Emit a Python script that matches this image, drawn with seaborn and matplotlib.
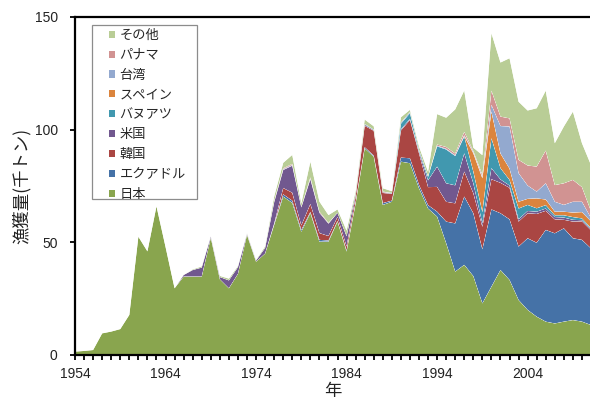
import pandas as pd
import matplotlib
matplotlib.use("Agg")
import matplotlib.pyplot as plt
from matplotlib.patches import Patch, Rectangle
from matplotlib.ticker import FixedLocator, FuncFormatter
import seaborn as sns
import seaborn.objects as so

years = list(range(1954, 2012))

japan = [1.5, 1.8, 2.2, 9.6, 10.4, 11.5, 17.8, 52.5, 46.0, 66.0,
         48.0, 29.6, 34.8, 34.8, 34.8, 52.0, 33.6, 29.6, 36.0, 53.3,
         41.4, 45.0, 57.7, 70.3, 67.5, 54.7, 63.0, 50.3, 50.3, 59.2,
         45.9, 67.3, 91.7, 88.0, 66.6, 68.0, 85.8, 85.1, 74.0, 65.0,
         61.4, 49.6, 37.0, 40.0, 35.0, 22.9, 30.3, 37.7, 33.3, 24.4,
         20.0, 17.0, 14.8, 14.0, 14.8, 15.5, 14.8, 13.3]
ecuador = [0, 0, 0, 0, 0, 0, 0, 0, 0, 0,
           0, 0, 0, 0, 0, 0, 0, 0, 0, 0,
           0, 0, 0.3, 1.0, 1.0, 0.8, 0.5, 0.8, 0.5, 0.3,
           0.5, 0.5, 0.5, 0.5, 0.8, 0.5, 1.8, 2.2, 1.5, 1.5,
           2.2, 9.6, 21.4, 30.3, 27.9, 24.0, 34.3, 25.2, 26.9, 23.7,
           31.8, 32.8, 40.7, 40.0, 41.4, 36.3, 36.3, 34.0]
korea = [0, 0, 0, 0, 0, 0, 0, 0, 0, 0,
         0, 0, 0, 0, 0, 0, 0, 0, 0, 0,
         0, 0, 0.3, 2.8, 3.5, 2.0, 3.5, 3.0, 2.0, 1.8,
         1.8, 2.5, 9.5, 11.0, 4.5, 3.0, 12.0, 17.0, 14.0, 8.0,
         11.0, 8.8, 8.9, 11.1, 8.9, 10.0, 13.4, 13.5, 14.0, 11.1,
         11.1, 12.8, 8.5, 6.2, 3.8, 7.4, 8.2, 8.0]
usa = [0, 0, 0, 0, 0, 0, 0, 0, 0, 0,
       0, 0, 0.7, 2.9, 4.0, 0.6, 1.0, 3.5, 3.0, 0.5,
       0.5, 2.5, 9.5, 8.0, 12.0, 8.0, 11.0, 9.0, 5.5, 1.8,
       4.5, 1.0, 0.5, 0.3, 0.3, 0.2, 0.5, 0.5, 0.8, 3.0,
       9.0, 8.2, 8.0, 8.1, 4.4, 1.5, 4.9, 1.5, 1.0, 1.0,
       1.0, 1.0, 1.0, 1.0, 1.0, 0.8, 0.5, 0.5]
vanuatu = [0, 0, 0, 0, 0, 0, 0, 0, 0, 0,
           0, 0, 0, 0, 0, 0, 0, 0, 0, 0,
           0, 0, 0, 0, 0, 0, 0, 0, 0, 0,
           0, 0, 0.3, 0.2, 0, 0.2, 2.5, 2.5, 0.7, 1.5,
           9.0, 15.0, 13.0, 7.4, 5.2, 5.0, 13.3, 5.0, 2.5, 4.8,
           2.7, 1.5, 1.5, 0.8, 1.0, 1.2, 0.8, 0.5]
spain = [0, 0, 0, 0, 0, 0, 0, 0, 0, 0,
         0, 0, 0, 0, 0, 0, 0, 0, 0, 0,
         0, 0, 0, 0, 0, 0, 0, 0, 0, 0,
         0, 0, 0, 0, 0, 0, 0, 0, 0, 0,
         0, 0, 0, 0.3, 8.1, 15.0, 11.8, 6.5, 5.0, 3.0,
         2.7, 4.4, 2.5, 1.6, 1.6, 2.0, 2.8, 3.0]
taiwan = [0, 0, 0, 0, 0, 0, 0, 0, 0, 0,
          0, 0, 0, 0, 0, 0, 0, 0, 0, 0,
          0, 0, 0, 0.3, 0.3, 0, 0.3, 0, 0, 0,
          0, 0, 0, 0, 0, 0, 0.5, 0.5, 0, 0,
          0.3, 0.3, 0.3, 0.3, 0.5, 0.5, 3.0, 12.2, 18.7, 12.7,
          5.9, 3.0, 7.2, 4.4, 3.0, 4.8, 4.6, 1.5]
panama = [0, 0, 0, 0, 0, 0, 0, 0, 0, 0,
          0, 0, 0, 0, 0, 0, 0, 0, 0, 0,
          0, 0, 0.5, 0.4, 0.5, 0.3, 0.5, 0.5, 0.3, 0,
          0, 0, 0, 0, 0.3, 0, 0, 0, 0, 0.3,
          0.5, 0.8, 0.8, 1.5, 0.5, 1.0, 6.3, 4.2, 3.6, 5.9,
          8.9, 11.1, 14.5, 7.4, 9.6, 9.7, 6.5, 3.0]
other = [0, 0, 0, 0, 0, 0, 0, 0, 0, 0,
         0, 0, 0, 0.3, 0.5, 0.2, 0.5, 0.8, 0.5, 0.3,
         0.3, 0.7, 2.0, 2.5, 4.0, 1.5, 7.0, 4.5, 3.5, 1.5,
         2.5, 1.5, 2.0, 1.5, 1.5, 0.8, 2.4, 1.0, 1.5, 2.0,
         13.5, 13.0, 19.6, 18.4, 1.5, 8.8, 25.5, 24.0, 26.7, 25.8,
         24.4, 25.9, 26.6, 18.6, 25.2, 30.3, 19.5, 20.5]

series_names = ["日本", "エクアドル", "韓国", "米国", "バヌアツ", "スペイン", "台湾", "パナマ", "その他"]
series_values = [japan, ecuador, korea, usa, vanuatu, spain, taiwan, panama, other]
colors = ["#89A54E", "#4572A7", "#AA4643", "#71588F", "#4198AF",
          "#DB843D", "#93A9CF", "#D19392", "#B9CD96"]
xtick_labels = [1954, 1964, 1974, 1984, 1994, 2004]
yticks = [0, 50, 100, 150]

rows = []
for name, vals in zip(series_names, series_values):
    for yr, v in zip(years, vals):
        rows.append((yr, name, v))
df = pd.DataFrame(rows, columns=["year", "country", "catch"])

sns.set_style("ticks")
plt.rcParams["font.family"] = ["Liberation Sans", "Noto Sans CJK JP", "DejaVu Sans"]
jp = ["Noto Sans CJK JP", "DejaVu Sans"]

fig = plt.figure(figsize=(5.9, 4.03), dpi=100)
ax = fig.add_axes([75 / 590, 48 / 403, 516 / 590, 338 / 403])

palette = dict(zip(series_names, colors))
(
    so.Plot(df, x="year", y="catch", color="country")
    .add(so.Area(alpha=1, edgewidth=0), so.Stack(), legend=False)
    .scale(color=so.Nominal(palette, order=series_names))
    .on(ax)
    .plot()
)

ax.set_facecolor("white")
ax.grid(False)
ax.set_xlim(1954, 2011)
ax.set_ylim(0, 150)
for s in ["left", "bottom", "top"]:
    ax.spines[s].set_visible(True)
    ax.spines[s].set_color("black")
    ax.spines[s].set_linewidth(1.6)
ax.spines["right"].set_visible(False)

ax.xaxis.set_major_locator(FixedLocator(xtick_labels))
ax.xaxis.set_minor_locator(FixedLocator(years))
ax.xaxis.set_major_formatter(FuncFormatter(lambda v, p: f"{int(round(v))}"))
ax.yaxis.set_major_locator(FixedLocator(yticks))
ax.yaxis.set_major_formatter(FuncFormatter(lambda v, p: f"{int(round(v))}"))

ax.tick_params(axis="both", which="both", direction="out", color="black",
               top=False, right=False, labelsize=10, labelcolor="#222222",
               labelfontfamily="Liberation Sans")
ax.tick_params(axis="x", which="both", bottom=True, length=3.5, width=1.3, pad=5)
ax.tick_params(axis="y", which="major", left=True, length=3.5, width=1.3, pad=9)
ax.tick_params(axis="y", which="minor", left=False)

ax.set_xlabel("年", fontsize=12.5, family=jp, color="#222222")
ax.set_ylabel("漁獲量(千トン)", fontsize=12.5, family=jp, color="#222222")
ax.xaxis.set_label_coords(0.5, -0.08)
ax.yaxis.set_label_coords(-0.085, 0.5)

# legend frame
ax.add_patch(Rectangle((0.0329, 0.4615), 0.2035, 0.5148, transform=ax.transAxes,
                       facecolor="white", edgecolor="#8c8c8c", lw=0.9, zorder=4))
handles = [Patch(facecolor=c, edgecolor="none") for c in colors[::-1]]
leg = ax.legend(handles, series_names[::-1], loc="upper left",
                bbox_to_anchor=(0.0659, 0.9645), borderaxespad=0, borderpad=0,
                frameon=False, handlelength=0.45, handleheight=0.45,
                handletextpad=0.35, labelspacing=0.52,
                prop={"family": jp, "size": 9.5})
leg.set_zorder(5)

fig.savefig("out.png", dpi=100)
